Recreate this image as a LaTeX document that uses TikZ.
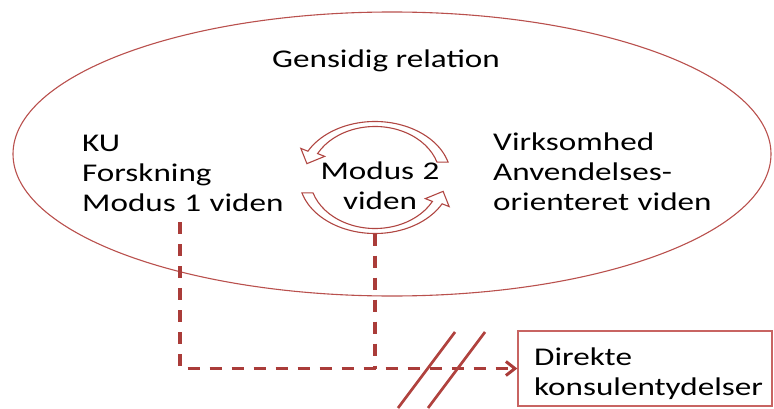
\documentclass[tikz,border=0pt]{standalone}
\usepackage{fontspec}
\setmainfont[FakeStretch=1.3]{Carlito}
\usetikzlibrary{shapes.geometric,arrows.meta,calc}
\definecolor{ellcol}{RGB}{185,80,77}
\definecolor{arrcol}{RGB}{176,70,66}
\definecolor{boxcol}{RGB}{200,100,98}
\definecolor{dashcol}{RGB}{170,60,57}
\definecolor{slashcol}{RGB}{176,66,62}
\tikzset{
  txt/.style={font=\fontsize{25.5}{30}\selectfont, inner sep=0pt, text=black},
  bigellipse/.style={draw=ellcol, line width=1.1pt, ellipse, inner sep=0pt},
  cyclearrow/.style={draw=arrcol, line width=1.1pt, fill=white, line join=miter},
  outbox/.style={draw=boxcol, line width=1.3pt, inner sep=0pt},
  dashconn/.style={draw=dashcol, line width=3.5pt, dash pattern=on 12pt off 10pt},
  slash/.style={draw=slashcol, line width=2.7pt}
}
\begin{document}
\begin{tikzpicture}[x=1pt,y=1pt]
\useasboundingbox (0,0) rectangle (774,408);
% big ellipse
\node[bigellipse, minimum width=758pt, minimum height=284pt] (rel) at (392,254) {};
% texts
\node[txt, anchor=base west] (title) at (272,341) {Gensidig relation};
\node[txt, anchor=base west, text width=220pt, align=left] (leftblock) at (82,257) {KU\\Forskning\\Modus 1 viden};
\node[txt, anchor=base west, text width=260pt, align=left] (rightblock) at (493,258) {Virksomhed\\Anvendelses-\\orienteret viden};
\node[txt, anchor=base, text width=140pt, align=center] (modus) at (380,229) {Modus 2\\viden};
% circular arrows
\coordinate (c) at (375,230.5);
\begin{scope}[shift={(c)}]
\draw[cyclearrow] (16:76 and 56) arc[start angle=16, end angle=152, x radius=76, y radius=56]
  -- (152:84 and 62) -- (165:70.5 and 53.5) -- (152:57 and 45) -- (152:65 and 51)
  arc[start angle=152, end angle=17.6, x radius=65, y radius=51] -- cycle;
\draw[cyclearrow] (196:76 and 56) arc[start angle=196, end angle=332, x radius=76, y radius=56]
  -- (332:84 and 62) -- (345:70.5 and 53.5) -- (332:57 and 45) -- (332:65 and 51)
  arc[start angle=332, end angle=197.6, x radius=65, y radius=51] -- cycle;
\coordinate (lowbot) at (270:76 and 56);
\end{scope}
% box
\node[outbox, minimum width=254pt, minimum height=75pt] (box) at (645,39.5) {};
\node[txt, anchor=base west, text width=230pt, align=left] (boxtext) at (534,43) {Direkte\\konsulentydelser};
% dashed connectors
\coordinate (d1) at (180,186);
\draw[dashconn, -{Straight Barb[length=9pt,width=14pt,line width=3pt]}] (d1) |- (box.west);
\draw[dashconn] (lowbot) -- (lowbot |- box.west);
% slashes
\draw[slash] (398,0) -- (455,76);
\draw[slash] (428,0) -- (485,76);
\end{tikzpicture}
\end{document}
